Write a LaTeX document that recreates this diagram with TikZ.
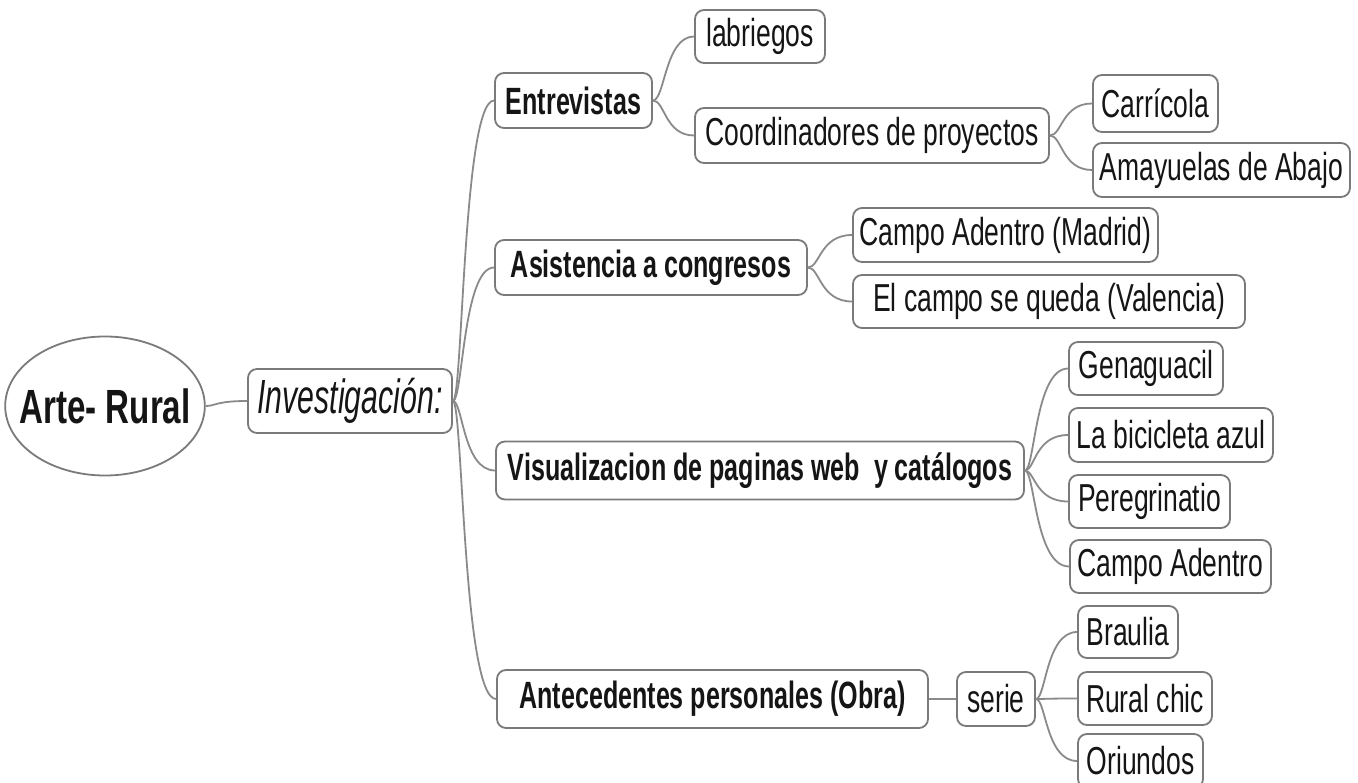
\documentclass[tikz,border=0pt]{standalone}
\usepackage{fontspec}
\setmainfont{Liberation Sans}
\newfontfamily\regf{Liberation Sans}[FakeStretch=0.68]
\newfontfamily\bldf{Liberation Sans}[FakeStretch=0.66]
\newfontfamily\rootf{Liberation Sans}[FakeStretch=0.69]
\newfontfamily\itf{Liberation Sans}[FakeStretch=0.63]
\usetikzlibrary{calc,shapes.geometric}
\definecolor{edge}{HTML}{7A7A7A}
\definecolor{wire}{HTML}{8A8A8A}
\definecolor{ink}{HTML}{151515}
\tikzset{
  box/.style={draw=edge, line width=1.8pt, rounded corners=9pt, fill=white, text=ink,
    inner sep=0pt, minimum height=54pt, font=\regf\fontsize{39}{44}\selectfont},
  topic/.style={box, font=\bldf\bfseries\fontsize{38}{44}\selectfont},
  conn/.style={draw=wire, line width=1.8pt},
}
\newcommand{\link}[3][10]{%
  \path (#2.east) ++(#1pt,0) coordinate (ctl);
  \draw[conn] (#2.east) .. controls (ctl) and (ctl |- #3.west) .. (#3.west);}
\begin{document}
\begin{tikzpicture}[x=1pt,y=-1pt]
\clip (0,0) rectangle (1358,783);
\fill[white] (0,0) rectangle (1358,783);
% root
\node[ellipse, draw=edge, line width=1.8pt, fill=white, text=ink, inner xsep=-15pt, inner ysep=0pt,
  minimum width=196pt, minimum height=139pt, font=\rootf\bfseries\fontsize{48}{54}\selectfont]
  (root) at (105,406) {Arte- Rural};
\node[box, minimum width=204pt, minimum height=64pt, font=\itf\itshape\fontsize{48}{54}\selectfont]
  (inv) at (350,401) {Investigación:};
% level 1
\node[topic, minimum width=157pt, minimum height=55pt] (ent) at (573.5,100.5) {Entrevistas};
\node[topic, minimum width=312pt, minimum height=55pt] (asis) at (651,267.5) {Asistencia a congresos};
\node[topic, minimum width=528pt, minimum height=58pt] (vis) at (760,470.5) {Visualizacion de paginas web\ \ y catálogos};
\node[topic, minimum width=431pt, minimum height=58pt] (ante) at (712.5,699) {Antecedentes personales (Obra)};
% Entrevistas
\node[box, minimum width=130pt, minimum height=53pt] (lab) at (760,36.5) {labriegos};
\node[box, minimum width=354pt, minimum height=55pt] (coord) at (872,135.5) {Coordinadores de proyectos};
\node[box, minimum width=125pt, minimum height=57pt] (carr) at (1155.5,103.5) {Carrícola};
\node[box, minimum width=257pt, minimum height=54pt] (amay) at (1221.5,170) {Amayuelas de Abajo};
% Asistencia
\node[box, minimum width=305pt, minimum height=54pt] (cmad) at (1005.5,235) {Campo Adentro (Madrid)};
\node[box, minimum width=392pt, minimum height=53pt] (cval) at (1049,301.5) {El campo se queda (Valencia)};
% Visualizacion
\node[box, minimum width=154pt, minimum height=53pt] (gena) at (1146,368.5) {Genaguacil};
\node[box, minimum width=204pt, minimum height=54pt] (bici) at (1171,435) {La bicicleta azul};
\node[box, minimum width=161pt, minimum height=53pt] (pere) at (1149.5,501.5) {Peregrinatio};
\node[box, minimum width=201pt, minimum height=53pt] (cadn) at (1170.5,566.5) {Campo Adentro};
% Antecedentes
\node[box, minimum width=78pt, minimum height=54pt] (serie) at (996,699) {serie};
\node[box, minimum width=100pt, minimum height=52pt] (brau) at (1128,632) {Braulia};
\node[box, minimum width=134pt, minimum height=53pt] (rural) at (1145,698.5) {Rural chic};
\node[box, minimum width=125pt, minimum height=54pt] (ori) at (1140.5,761) {Oriundos};
% connectors
\link{root}{inv}
\link{inv}{ent}
\link{inv}{asis}
\link{inv}{vis}
\link{inv}{ante}
\link[12]{ent}{lab}
\link[12]{ent}{coord}
\link[12]{coord}{carr}
\link[12]{coord}{amay}
\link[12]{asis}{cmad}
\link[12]{asis}{cval}
\link{vis}{gena}
\link{vis}{bici}
\link{vis}{pere}
\link{vis}{cadn}
\link{ante}{serie}
\link{serie}{brau}
\link{serie}{rural}
\link{serie}{ori}
\end{tikzpicture}
\end{document}
